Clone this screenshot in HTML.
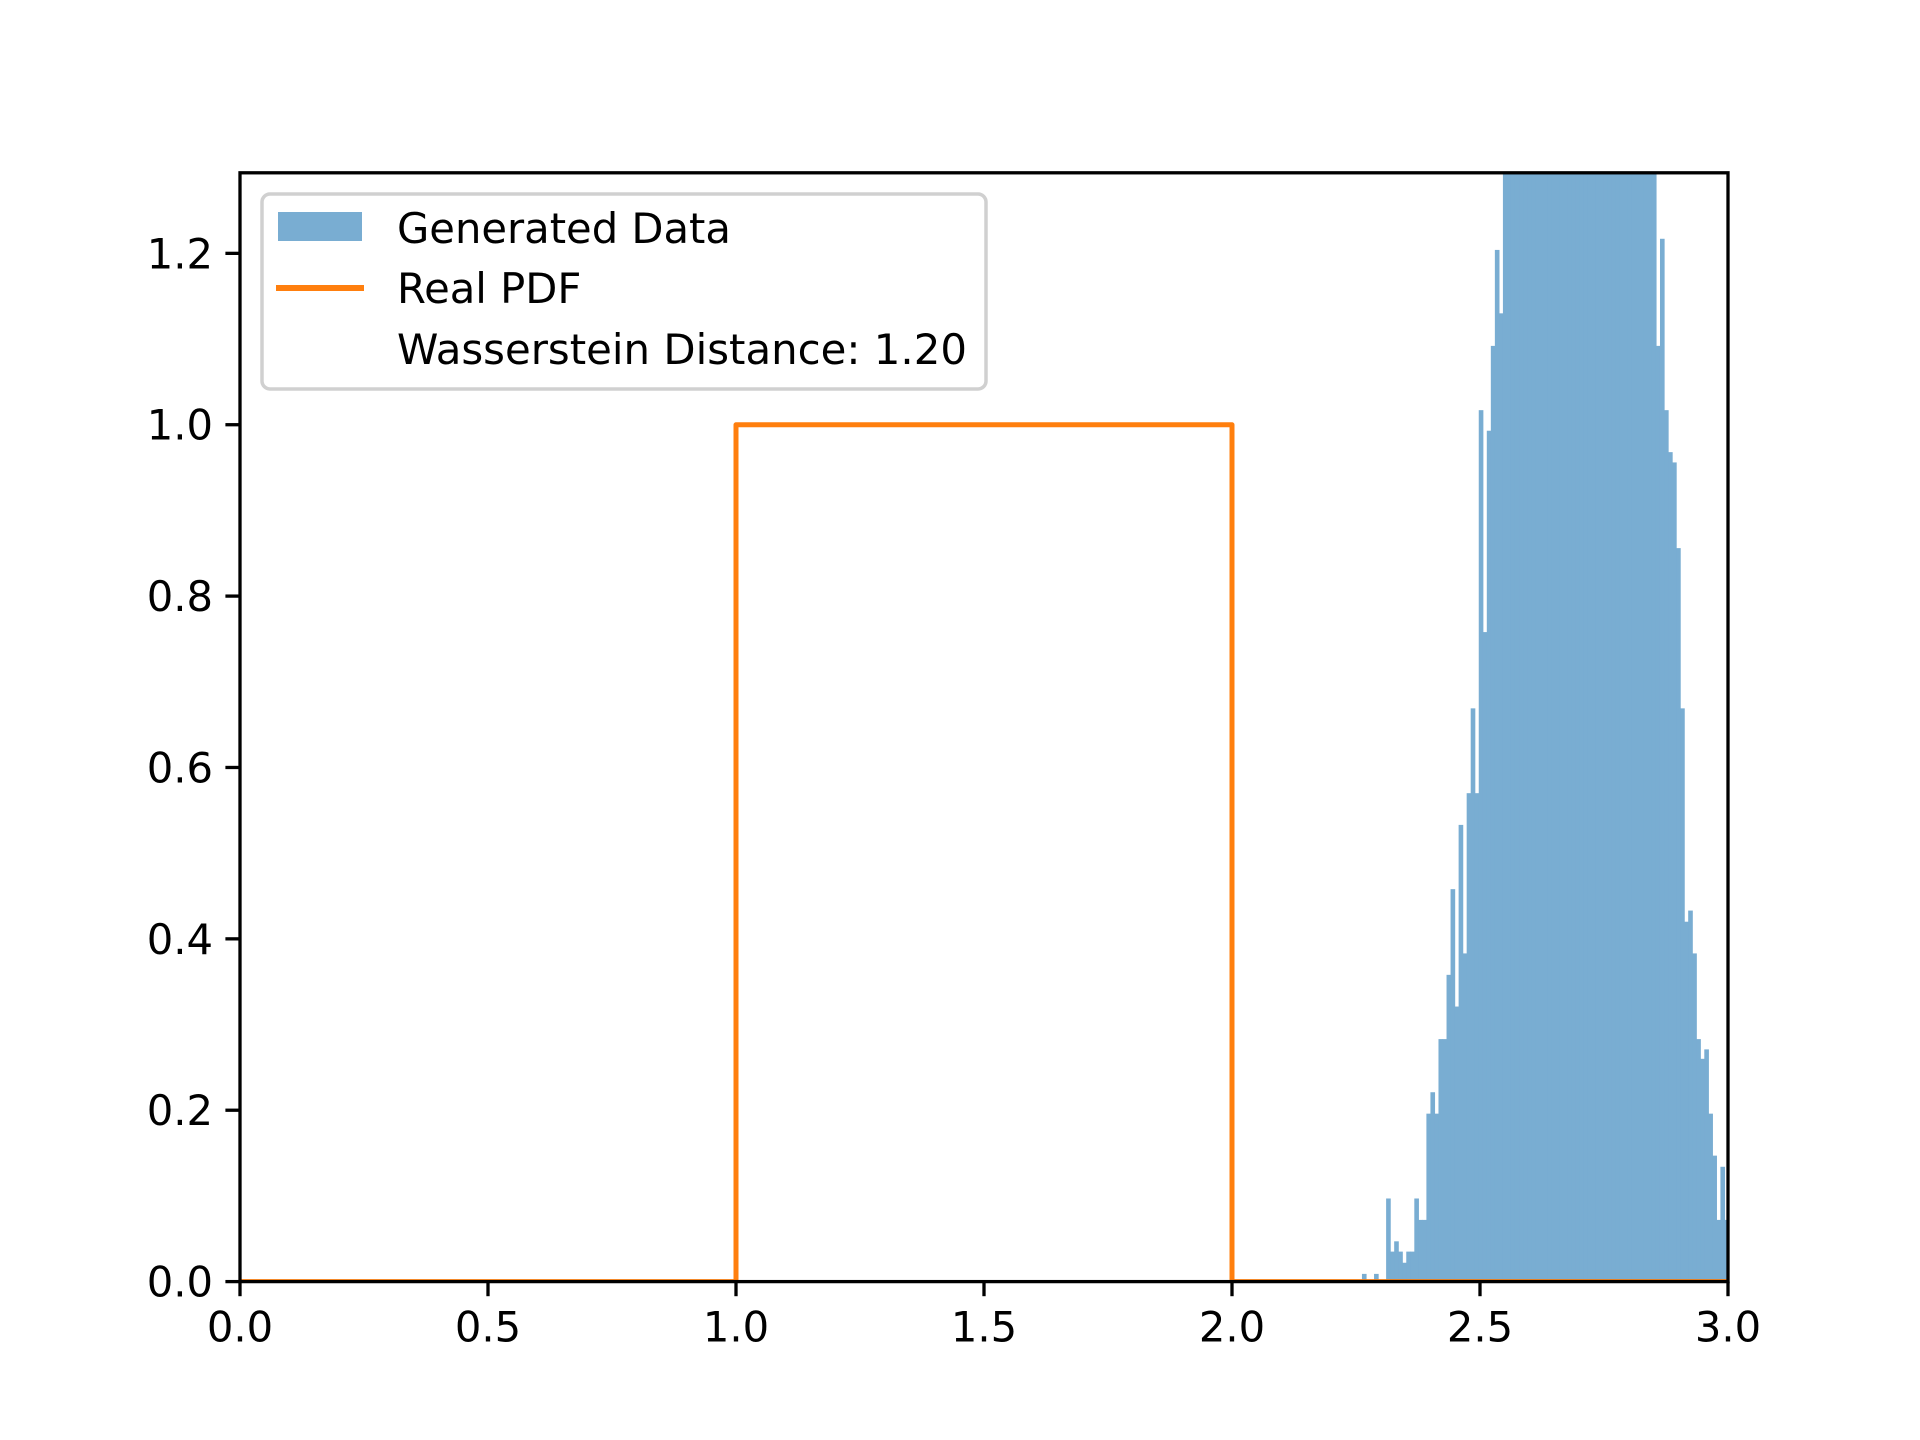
<!DOCTYPE html>
<html><head><meta charset="utf-8"><style>
html,body{margin:0;padding:0;background:#fff;}
svg{display:block;font-family:"DejaVu Sans","Liberation Sans",sans-serif;}
</style></head><body>
<svg id="chart" width="1920" height="1440" viewBox="0 0 1920 1440" xmlns="http://www.w3.org/2000/svg">
<rect width="1920" height="1440" fill="#fff"/>
<defs><clipPath id="plotclip"><rect x="240" y="172.8" width="1488" height="1108.8"/></clipPath></defs>
<g id="bars" clip-path="url(#plotclip)"></g>
<g id="pdf" clip-path="url(#plotclip)"></g>
<g id="axes"></g>
<g id="legend">
<rect x="262" y="194" width="724" height="195" rx="8" fill="#fff" fill-opacity="0.8" stroke="#d0d0d0" stroke-width="3.5"/>
<rect x="278" y="212" width="84" height="29" fill="#79add2"/>
<text x="397" y="243" font-size="41.7" fill="#000">Generated Data</text>
<line x1="276" y1="288" x2="364" y2="288" stroke="#ff7f0e" stroke-width="6"/>
<text x="397" y="303" font-size="41.7" fill="#000">Real PDF</text>
<text x="397" y="364" font-size="41.7" fill="#000" textLength="570" lengthAdjust="spacingAndGlyphs">Wasserstein Distance: 1.20</text>
</g>
</svg>
<script>
const binStart = 2.262;
const binWidth = 0.00812;
const binHeights = [0.009,0,0,0.009,0,0,0.097,0.035,0.047,0.035,0.022,0.035,0.035,0.097,0.072,0.072,0.196,0.221,0.196,0.283,0.283,0.358,0.458,0.321,0.533,0.383,0.570,0.669,0.570,1.017,0.758,0.993,1.092,1.204,1.130,
1.4,1.5,1.6,1.7,1.8,1.9,2.0,2.0,2.1,2.1,2.1,2.2,2.2,2.2,2.2,2.2,2.1,2.1,2.1,2.0,2.0,1.9,1.9,1.8,1.8,1.7,1.7,1.6,1.6,1.5,1.5,1.5,1.4,1.4,1.4,1.35,1.35,1.32,
1.092,1.217,1.017,0.968,0.956,0.856,0.669,0.420,0.433,0.383,0.283,0.260,0.271,0.196,0.147,0.072,0.134,0.072];
const pdfX = [0,1,1,2,2,3];
const pdfY = [0,0,1,1,0,0];
const xTicks = [0,0.5,1,1.5,2,2.5,3];
const xTickLabels = ["0.0","0.5","1.0","1.5","2.0","2.5","3.0"];
const yTicks = [0,0.2,0.4,0.6,0.8,1.0,1.2];
const yTickLabels = ["0.0","0.2","0.4","0.6","0.8","1.0","1.2"];

const NS = "http://www.w3.org/2000/svg";
const L = 240, R = 1728, T = 172.8, B = 1281.6, XMAX = 3, YMAX = 1.294;
const sx = v => L + v / XMAX * (R - L);
const sy = v => B - v / YMAX * (B - T);
function mk(tag, attrs, parent) {
  const el = document.createElementNS(NS, tag);
  for (const k in attrs) el.setAttribute(k, attrs[k]);
  parent.appendChild(el);
  return el;
}
const gb = document.getElementById("bars");
binHeights.forEach((h, i) => {
  if (h <= 0) return;
  const x0 = sx(binStart + i * binWidth), x1 = sx(binStart + (i + 1) * binWidth);
  const r = mk("rect", {x: x0, y: sy(h), width: x1 - x0 + 0.6, height: sy(0) - sy(h), fill: "#79add2"}, gb);
  
  
});
const gp = document.getElementById("pdf");
const pts = pdfX.map((x, i) => sx(x) + "," + sy(pdfY[i])).join(" ");
const pl = mk("polyline", {points: pts, fill: "none", stroke: "#ff7f0e", "stroke-width": 5, "stroke-linejoin": "round"}, gp);



const ga = document.getElementById("axes");
const frame = mk("rect", {x: L, y: T, width: R - L, height: B - T, fill: "none", stroke: "#000", "stroke-width": 3.3}, ga);


xTicks.forEach((v, i) => {
  const t = mk("line", {x1: sx(v), x2: sx(v), y1: B, y2: B + 14.6, stroke: "#000", "stroke-width": 3.3}, ga);
  
  
  const tx = mk("text", {x: sx(v), y: B + 60, "font-size": 41.7, "text-anchor": "middle", fill: "#000"}, ga);
  tx.textContent = xTickLabels[i];
  
  
});
yTicks.forEach((v, i) => {
  const t = mk("line", {x1: L - 14.6, x2: L, y1: sy(v), y2: sy(v), stroke: "#000", "stroke-width": 3.3}, ga);
  
  
  const tx = mk("text", {x: L - 27, y: sy(v) + 15, "font-size": 41.7, "text-anchor": "end", fill: "#000"}, ga);
  tx.textContent = yTickLabels[i];
  
  
});
</script>
</body></html>
